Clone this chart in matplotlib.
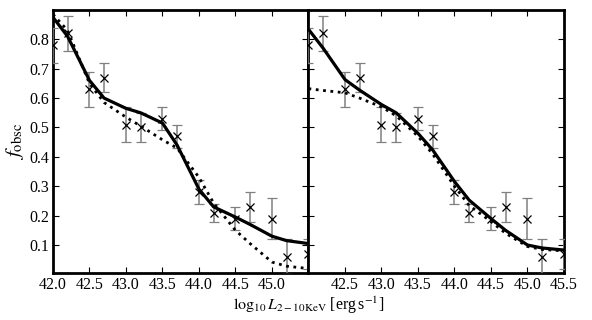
import matplotlib
matplotlib.use("Agg")
import matplotlib.pyplot as plt
import numpy as np

plt.rcParams["font.family"] = ["Liberation Serif", "DejaVu Serif"]
plt.rcParams["mathtext.fontset"] = "stix"

# observed points
lum = [42.0, 42.2, 42.5, 42.7, 43.0, 43.2, 43.5, 43.7, 44.0, 44.2, 44.5, 44.7, 45.0, 45.2, 45.5]
fobs = [0.78, 0.82, 0.63, 0.67, 0.51, 0.50, 0.53, 0.47, 0.28, 0.21, 0.19, 0.23, 0.19, 0.06, 0.07]
ferr = [0.06, 0.06, 0.06, 0.05, 0.06, 0.05, 0.04, 0.04, 0.04, 0.03, 0.04, 0.05, 0.07, 0.06, 0.05]

# model curves, left panel
left_solid = [0.875, 0.81, 0.66, 0.60, 0.565, 0.55, 0.515, 0.44, 0.29, 0.23, 0.195, 0.17, 0.13, 0.115, 0.105]
left_dotted = [0.885, 0.83, 0.65, 0.585, 0.535, 0.505, 0.458, 0.43, 0.33, 0.243, 0.15, 0.105, 0.042, 0.028, 0.02]

# model curves, right panel
right_solid = [0.834, 0.77, 0.663, 0.627, 0.578, 0.55, 0.48, 0.424, 0.316, 0.253, 0.19, 0.15, 0.10, 0.09, 0.083]
right_dotted = [0.632, 0.626, 0.618, 0.60, 0.57, 0.54, 0.47, 0.41, 0.30, 0.235, 0.18, 0.14, 0.095, 0.085, 0.08]

fig = plt.figure(figsize=(5.92, 3.2), dpi=100)
ax1 = fig.add_axes([0.0895, 0.147, 0.4316, 0.822])
ax2 = fig.add_axes([0.5211, 0.147, 0.4316, 0.822], sharey=ax1)


def draw(ax, solid, dotted):
    eb = ax.errorbar(lum, fobs, yerr=ferr, fmt="x", color="k", ms=6, mew=0.9,
                     ecolor="0.5", elinewidth=1.1, capsize=3.5, capthick=1.0, zorder=3)
    for cap in eb[1]:
        cap.set_color("0.25")
    ax.plot(lum, solid, "-", color="k", lw=2.3, zorder=4)
    ax.plot(lum, dotted, ":", color="k", lw=2.0, zorder=4)
    ax.set_xlim(42.0, 45.5)
    ax.set_ylim(0.005, 0.9)
    for sp in ax.spines.values():
        sp.set_linewidth(2)
    ax.tick_params(direction="in", top=True, right=True, length=4, labelsize=11.5, pad=3)


draw(ax1, left_solid, left_dotted)
draw(ax2, right_solid, right_dotted)

ax1.set_xticks([42.0, 42.5, 43.0, 43.5, 44.0, 44.5, 45.0])
ax1.set_xticklabels(["42.0", "42.5", "43.0", "43.5", "44.0", "44.5", "45.0"])
ax2.set_xticks([42.5, 43.0, 43.5, 44.0, 44.5, 45.0, 45.5])
ax2.set_xticklabels(["42.5", "43.0", "43.5", "44.0", "44.5", "45.0", "45.5"])
ax1.set_yticks([0.1, 0.2, 0.3, 0.4, 0.5, 0.6, 0.7, 0.8])
ax2.tick_params(labelleft=False)

ax1.set_ylabel(r"$f_{\rm obsc}$", fontsize=15, labelpad=2)
fig.text(0.521, 0.03, r"$\log_{10}L_{2-10{\rm KeV}}$ [erg$\,$s$^{-1}$]", ha="center", fontsize=11.5)

fig.savefig("out.png", dpi=100)
